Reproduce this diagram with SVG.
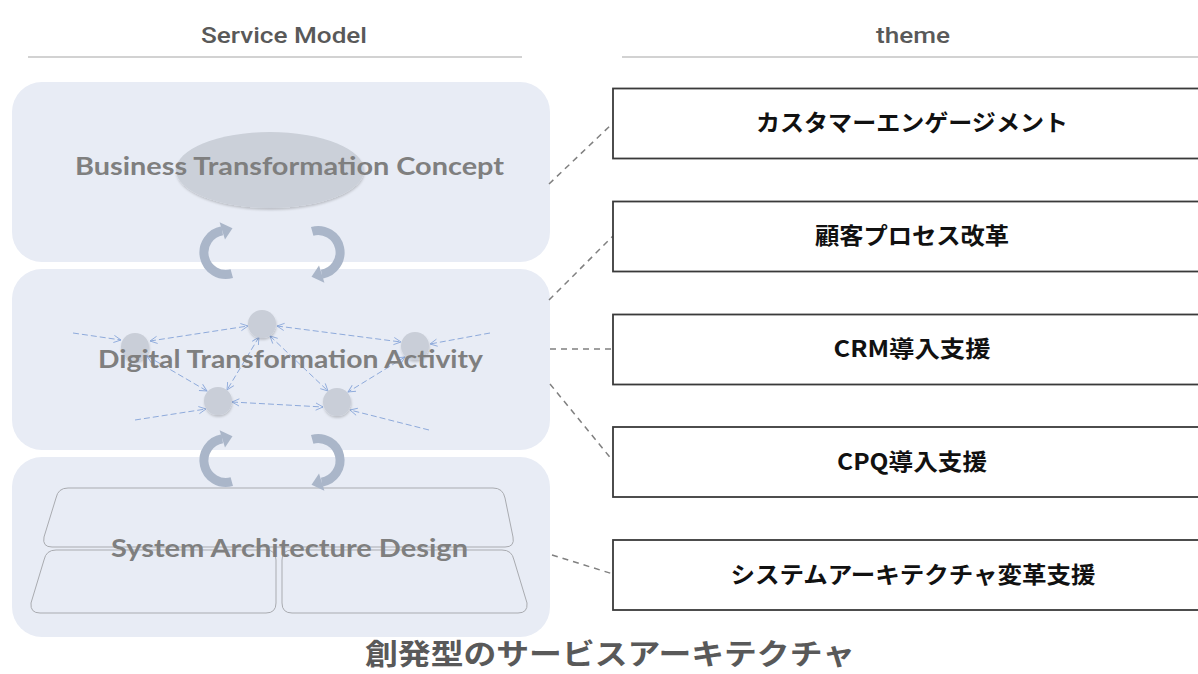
<svg xmlns="http://www.w3.org/2000/svg" width="1198" height="674" viewBox="0 0 1198 674">
<style>
.hdr{font-family:Roboto,"Liberation Sans",sans-serif;font-weight:500;font-size:22px;fill:#595959;text-anchor:middle}
.uline{stroke:#c3c3c3;stroke-width:1.5}
.layer{fill:#e8ecf5}
.lbl{font-family:Lato,"Liberation Sans",sans-serif;font-weight:700;font-size:25px;fill:#7f7f7f;text-anchor:middle}
.node{fill:#c9ced8}
.net{stroke:#8eaadb;stroke-width:1;stroke-dasharray:6 3;fill:none}
.cyc{stroke:#aab6c9;stroke-width:9;fill:none}
.cychead{fill:#aab6c9}
.part{fill:none;stroke:#a9abb0;stroke-width:1}
.theme{fill:#fff;stroke:#3a3a3a;stroke-width:1.8}
.ttxt{font-family:"Noto Sans CJK JP","Liberation Sans",sans-serif;font-weight:700;font-size:23px;fill:#111;text-anchor:middle}
.dash{stroke:#808080;stroke-width:1.5;stroke-dasharray:6 5;fill:none}
.title{font-family:"Noto Sans CJK JP",sans-serif;font-weight:700;font-size:29px;fill:#595959;text-anchor:middle}
</style>
<defs>
<marker id="oa" viewBox="0 0 10 10" refX="9" refY="5" markerWidth="9" markerHeight="9" markerUnits="userSpaceOnUse" orient="auto-start-reverse">
<path d="M1,1 L9,5 L1,9" fill="none" stroke="#8eaadb" stroke-width="1"/>
</marker>
<filter id="sh" x="-30%" y="-30%" width="160%" height="160%">
<feDropShadow dx="0.5" dy="2" stdDeviation="1.2" flood-color="#000" flood-opacity="0.18"/>
</filter>
<g id="cycpair">
<path class="cyc" d="M231.8,273.7 A22,22 0 1 1 222.3,230.8"/>
<polygon class="cychead" points="219.6,222.3 232.5,228.2 225.0,239.4"/>
<g transform="rotate(180 272 252.5)">
<path class="cyc" d="M231.8,273.7 A22,22 0 1 1 222.3,230.8"/>
<polygon class="cychead" points="219.6,222.3 232.5,228.2 225.0,239.4"/>
</g>
</g>
</defs>
<rect width="1198" height="674" fill="#fff"/>

<g id="header-service">
<text class="hdr" x="284" y="43" textLength="166" lengthAdjust="spacingAndGlyphs">Service Model</text>
<line class="uline" x1="28" y1="57" x2="522" y2="57"/>
</g>
<g id="header-theme">
<text class="hdr" x="913" y="43" textLength="74" lengthAdjust="spacingAndGlyphs">theme</text>
<line class="uline" x1="622" y1="57" x2="1198" y2="57"/>
</g>

<g id="layer-business">
<rect class="layer" x="12" y="82" width="538" height="180" rx="30"/>
<ellipse cx="270" cy="170" rx="94" ry="38" fill="#cbd0d9" filter="url(#sh)"/>
<text class="lbl" x="289.5" y="175" textLength="429" lengthAdjust="spacingAndGlyphs">Business Transformation Concept</text>
</g>

<g id="layer-digital">
<rect class="layer" x="12" y="269" width="538" height="181" rx="30"/>
<g id="network">
<line class="net" x1="73" y1="333" x2="121" y2="340" marker-end="url(#oa)"/>
<line class="net" x1="150" y1="341" x2="248" y2="326" marker-start="url(#oa)" marker-end="url(#oa)"/>
<line class="net" x1="277" y1="326" x2="401" y2="342" marker-start="url(#oa)" marker-end="url(#oa)"/>
<line class="net" x1="490" y1="333" x2="430" y2="344" marker-end="url(#oa)"/>
<line class="net" x1="147" y1="356" x2="207" y2="391" marker-start="url(#oa)" marker-end="url(#oa)"/>
<line class="net" x1="259" y1="337" x2="227" y2="390" marker-start="url(#oa)" marker-end="url(#oa)"/>
<line class="net" x1="270" y1="336" x2="328" y2="391" marker-start="url(#oa)" marker-end="url(#oa)"/>
<line class="net" x1="405" y1="357" x2="348" y2="392" marker-start="url(#oa)" marker-end="url(#oa)"/>
<line class="net" x1="232" y1="402" x2="323" y2="407" marker-start="url(#oa)" marker-end="url(#oa)"/>
<line class="net" x1="135" y1="420" x2="206" y2="409" marker-end="url(#oa)"/>
<line class="net" x1="429" y1="430" x2="350" y2="410" marker-end="url(#oa)"/>
<circle class="node" cx="135" cy="347" r="14" filter="url(#sh)"/>
<circle class="node" cx="262" cy="324" r="14" filter="url(#sh)"/>
<circle class="node" cx="415" cy="346" r="14" filter="url(#sh)"/>
<circle class="node" cx="218" cy="401" r="14" filter="url(#sh)"/>
<circle class="node" cx="337" cy="402" r="14" filter="url(#sh)"/>
</g>
<text class="lbl" x="290.5" y="368" textLength="385" lengthAdjust="spacingAndGlyphs">Digital Transformation Activity</text>
</g>

<g id="layer-system">
<rect class="layer" x="12" y="457" width="538" height="180" rx="30"/>
<path class="part" d="M68,488 L493,488 Q503,488 505,498 L513,537 Q515,547 505,547 L52,547 Q42,547 44,537 L56,498 Q58,488 68,488 Z"/>
<path class="part" d="M56,550 L266,550 Q276,550 276,560 L276,603 Q276,613 266,613 L40,613 Q30,613 31,603 L44,560 Q46,550 56,550 Z"/>
<path class="part" d="M292,550 L502,550 Q512,550 514,560 L527,603 Q528,613 518,613 L292,613 Q282,613 282,603 L282,560 Q282,550 292,550 Z"/>
<text class="lbl" x="289.5" y="557" font-size="24" textLength="357" lengthAdjust="spacingAndGlyphs">System Architecture Design</text>
</g>

<g id="cycles">
<use href="#cycpair"/>
<use href="#cycpair" transform="translate(0 208)"/>
</g>

<g id="connectors">
<line class="dash" x1="549" y1="184" x2="613" y2="123"/>
<line class="dash" x1="549" y1="300" x2="613" y2="236"/>
<line class="dash" x1="550" y1="349" x2="613" y2="349"/>
<line class="dash" x1="550" y1="384" x2="613" y2="461"/>
<line class="dash" x1="552" y1="555" x2="613" y2="574"/>
</g>

<g id="theme-1">
<rect class="theme" x="613" y="88.5" width="620" height="70"/>
<text class="ttxt" x="912" y="131" textLength="312" lengthAdjust="spacingAndGlyphs">カスタマーエンゲージメント</text>
</g>
<g id="theme-2">
<rect class="theme" x="613" y="201.5" width="620" height="70"/>
<text class="ttxt" x="912" y="244" textLength="194" lengthAdjust="spacingAndGlyphs">顧客プロセス改革</text>
</g>
<g id="theme-3">
<rect class="theme" x="613" y="314.5" width="620" height="70"/>
<text class="ttxt" x="912" y="357" textLength="157" lengthAdjust="spacingAndGlyphs">CRM導入支援</text>
</g>
<g id="theme-4">
<rect class="theme" x="613" y="427" width="620" height="70"/>
<text class="ttxt" x="912" y="470" textLength="150" lengthAdjust="spacingAndGlyphs">CPQ導入支援</text>
</g>
<g id="theme-5">
<rect class="theme" x="613" y="540" width="620" height="70"/>
<text class="ttxt" x="913" y="583" textLength="365" lengthAdjust="spacingAndGlyphs">システムアーキテクチャ変革支援</text>
</g>

<g id="title">
<text class="title" x="610" y="665" textLength="490" lengthAdjust="spacingAndGlyphs">創発型のサービスアーキテクチャ</text>
</g>
</svg>
